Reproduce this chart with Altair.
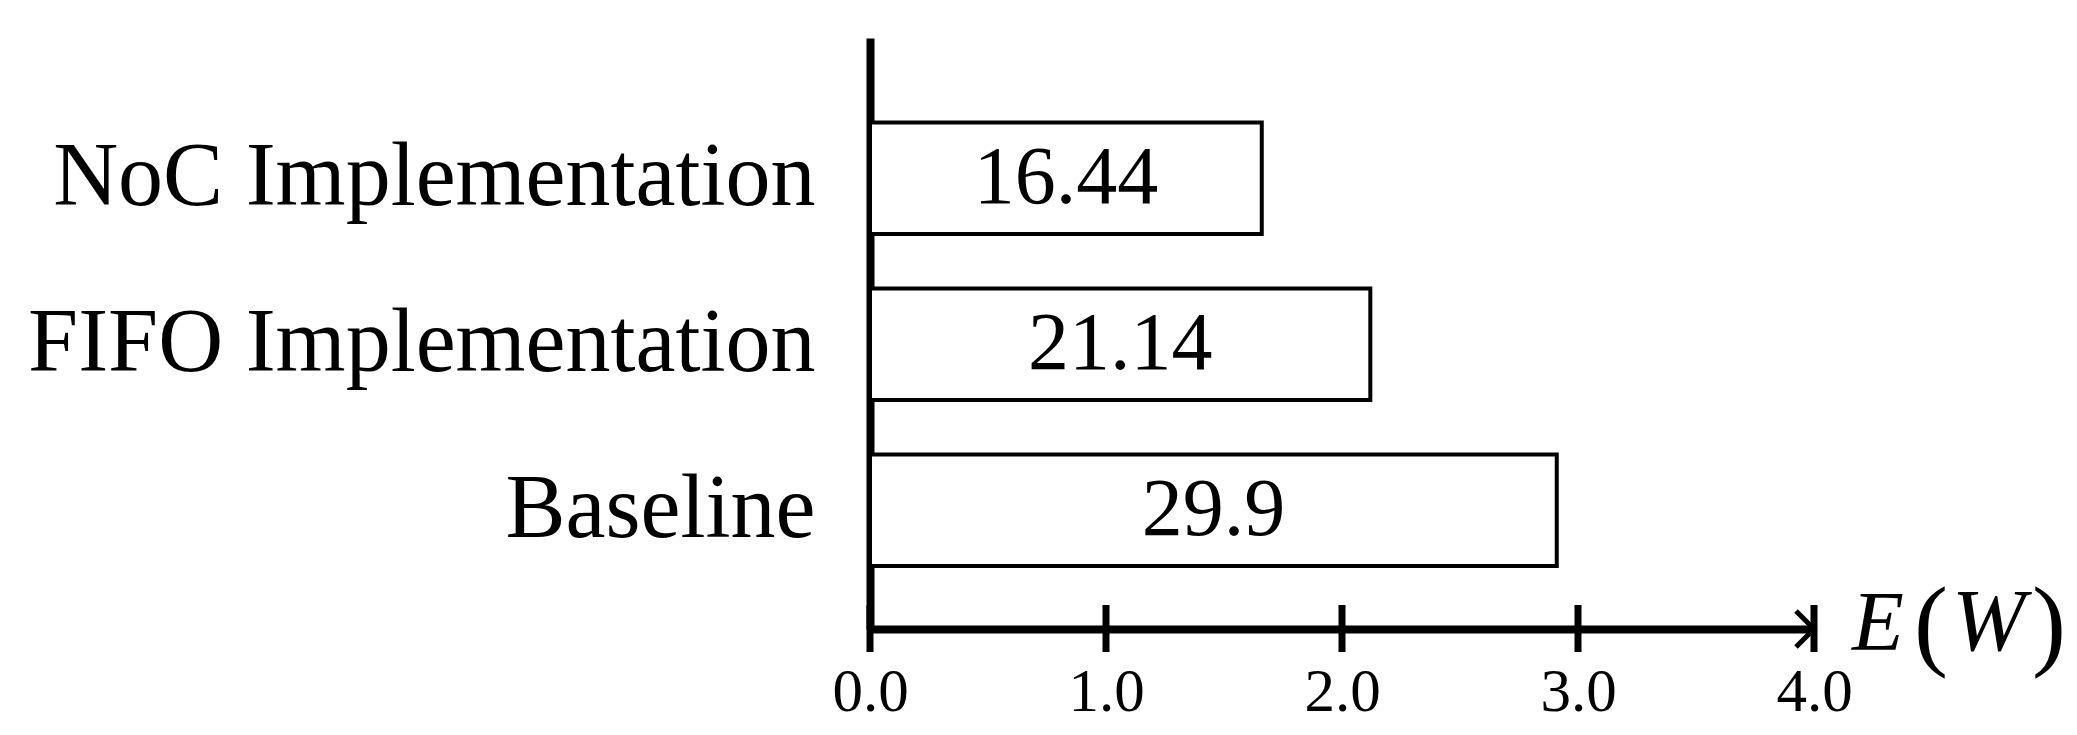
import altair as alt
import pandas as pd

# ---- data ----
categories = ["NoC Implementation", "FIFO Implementation", "Baseline"]
bar_lengths = [1.66, 2.12, 2.91]          # bar end positions on the E (W) axis
bar_labels = ["16.44", "21.14", "29.9"]   # numbers printed inside the bars
tick_values = [0.0, 1.0, 2.0, 3.0, 4.0]
axis_max = [4.0]

FONT = "Liberation Serif"
W, H = 944, 591

bars_df = pd.DataFrame({"cat": categories, "len": bar_lengths, "label": bar_labels})
ticks_df = pd.DataFrame({"t": tick_values})
end_df = pd.DataFrame({"t": axis_max})

x_scale = alt.Scale(domain=[0, 4], nice=False, zero=True)
y_scale = alt.Scale(domain=categories, paddingInner=0.328, paddingOuter=0.444, align=0.573)

x_axis = alt.Axis(values=tick_values, format=".1f", domain=True, domainColor="black",
                  domainWidth=8, ticks=False, tickSize=0, labelFont=FONT, labelFontSize=61,
                  labelColor="black", labelPadding=33, labelFlush=False, labelOverlap=False,
                  labelAlign="center", title=None, grid=False)
y_axis = alt.Axis(domain=True, domainColor="black", domainWidth=8, ticks=False, tickSize=0,
                  labelFont=FONT, labelFontSize=90, labelColor="black", labelPadding=55,
                  labelLimit=2000, title=None, grid=False)

bars = alt.Chart(bars_df).mark_bar(fill="white", stroke="black", strokeWidth=4).encode(
    x=alt.X("len:Q", scale=x_scale, axis=x_axis),
    y=alt.Y("cat:N", scale=y_scale, sort=categories, axis=y_axis),
)

texts = alt.Chart(bars_df).transform_calculate(mid="datum.len / 2").mark_text(
    font=FONT, fontSize=82, color="black", align="center", baseline="middle"
).encode(
    x=alt.X("mid:Q", scale=x_scale),
    y=alt.Y("cat:N", scale=y_scale, sort=categories),
    text="label:N",
)

tick_rules = alt.Chart(ticks_df).mark_rule(color="black", strokeWidth=7).encode(
    x=alt.X("t:Q", scale=x_scale),
    y=alt.value(H - 24),
    y2=alt.value(H + 23),
)

arrow = alt.Chart(end_df).mark_point(
    shape="M -1 -1 L 0 0 L -1 1", filled=False, stroke="black", strokeWidth=5,
    size=1296, opacity=1
).encode(x=alt.X("t:Q", scale=x_scale), y=alt.value(H))

def title_part(txt, dx, italic, size, yoff):
    return alt.Chart(end_df).mark_text(
        text=txt, font=FONT, fontSize=size, fontStyle="italic" if italic else "normal",
        color="black", align="left", baseline="alphabetic", dx=dx
    ).encode(x=alt.X("t:Q", scale=x_scale), y=alt.value(H + yoff))

title = (title_part("E", 38, True, 85, 21) + title_part("(", 100, False, 102, 28)
         + title_part("W", 138, True, 88, 21) + title_part(")", 218, False, 102, 28))

chart = alt.layer(bars, texts, tick_rules, arrow, title).properties(
    width=W, height=H,
    autosize=alt.AutoSizeParams(type="none"),
    padding={"left": 862, "top": 30, "right": 254, "bottom": 96},
    background="white",
).configure_view(stroke=None)

chart.save("out.html", embed_options={"renderer": "svg", "actions": False})
